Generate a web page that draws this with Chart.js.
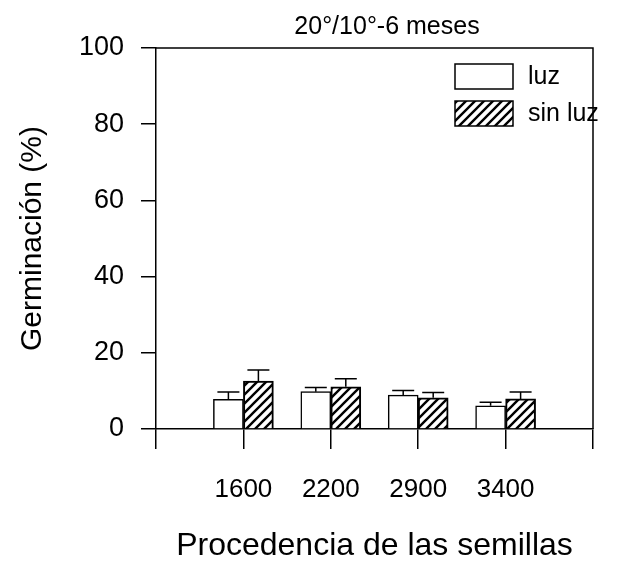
<!DOCTYPE html>
<html>
<head>
<meta charset="utf-8">
<script src="https://cdn.jsdelivr.net/npm/chart.js@4.4.1/dist/chart.umd.min.js"></script>
<style>
  html, body { margin: 0; padding: 0; background: #ffffff; }
  #wrap { width: 618px; height: 565px; position: relative; }
</style>
</head>
<body>
<div id="wrap"><canvas id="c" width="618" height="565"></canvas></div>
<script>
// ---- Data ----
const categories = ['', '1600', '2200', '2900', '3400', ''];
const luz        = [null, 7.8, 9.8, 8.9, 6.1, null];
const luzErr     = [null, 1.9, 1.1, 1.2, 0.9, null];
const sinLuz     = [null, 12.6, 11.1, 8.2, 7.9, null];
const sinLuzErr  = [null, 2.9, 2.1, 1.4, 1.8, null];
const yTicks     = [0, 20, 40, 60, 80, 100];
const seriesNames = ['luz', 'sin luz'];
const chartTitle = '20°/10°-6 meses';
const xTitle = 'Procedencia de las semillas';
const yTitle = 'Germinación (%)';

const FONT = "'Liberation Sans', Arial, Helvetica, sans-serif";

function makeHatch() {
  const s = 9;
  const c = document.createElement('canvas');
  c.width = s; c.height = s;
  const g = c.getContext('2d');
  g.fillStyle = '#ffffff';
  g.fillRect(0, 0, s, s);
  g.strokeStyle = '#000000';
  g.lineWidth = 2.4;
  g.beginPath();
  g.moveTo(-2, s + 2); g.lineTo(s + 2, -2);
  g.moveTo(-2, 2); g.lineTo(2, -2);
  g.moveTo(s - 2, s + 2); g.lineTo(s + 2, s - 2);
  g.stroke();
  return g.createPattern(c, 'repeat');
}
const hatch = makeHatch();

const errorBars = {
  id: 'errorBars',
  afterDatasetsDraw(chart) {
    const ctx = chart.ctx;
    const yScale = chart.scales.y;
    const errs = [luzErr, sinLuzErr];
    ctx.save();
    ctx.strokeStyle = '#000';
    ctx.lineWidth = 1.5;
    chart.data.datasets.forEach((ds, i) => {
      const meta = chart.getDatasetMeta(i);
      meta.data.forEach((el, j) => {
        const v = ds.data[j];
        const e = errs[i][j];
        if (v == null || e == null) return;
        const yTop = yScale.getPixelForValue(v);
        const yCap = yScale.getPixelForValue(v + e);
        ctx.beginPath();
        ctx.moveTo(el.x, yTop);
        ctx.lineTo(el.x, yCap);
        ctx.moveTo(el.x - 11, yCap);
        ctx.lineTo(el.x + 11, yCap);
        ctx.stroke();
      });
    });
    ctx.restore();
  }
};

const frameAndText = {
  id: 'frameAndText',
  afterDraw(chart) {
    const ctx = chart.ctx;
    const a = chart.chartArea;
    ctx.save();
    ctx.strokeStyle = '#000';
    ctx.lineWidth = 1.5;
    ctx.beginPath();
    ctx.moveTo(a.left, a.top);
    ctx.lineTo(a.right, a.top);
    ctx.lineTo(a.right, a.bottom);
    ctx.stroke();

    // title
    ctx.fillStyle = '#000';
    ctx.font = '25px ' + FONT;
    ctx.textAlign = 'center';
    ctx.textBaseline = 'middle';
    ctx.fillText(chartTitle, 387, 27);

    // legend
    const fills = ['#ffffff', hatch];
    const sy = [64, 101];
    ctx.font = '25px ' + FONT;
    ctx.textAlign = 'left';
    for (let i = 0; i < 2; i++) {
      ctx.fillStyle = fills[i];
      ctx.fillRect(455, sy[i], 58, 25);
      ctx.strokeStyle = '#000';
      ctx.lineWidth = 1.5;
      ctx.strokeRect(455, sy[i], 58, 25);
      ctx.fillStyle = '#000';
      ctx.fillText(seriesNames[i], 528, sy[i] + 13);
    }
    ctx.restore();
  }
};

new Chart(document.getElementById('c'), {
  type: 'bar',
  data: {
    labels: categories,
    datasets: [
      { label: seriesNames[0], data: luz, backgroundColor: '#ffffff', borderColor: '#000', borderWidth: 1.5, borderSkipped: 'bottom' },
      { label: seriesNames[1], data: sinLuz, backgroundColor: hatch, borderColor: '#000', borderWidth: 2, borderSkipped: 'bottom' }
    ]
  },
  options: {
    responsive: false,
    animation: false,
    devicePixelRatio: 1,
    layout: { padding: { left: 0, top: 48, right: 16, bottom: 0 } },
    datasets: { bar: { barThickness: 30 } },
    plugins: {
      legend: { display: false },
      title: { display: false },
      tooltip: { enabled: false }
    },
    scales: {
      x: {
        type: 'category',
        offset: false,
        grid: { display: true, offset: false, drawOnChartArea: false, drawTicks: true, tickLength: 20, color: '#000', lineWidth: 1.5 },
        border: { display: true, color: '#000', width: 1.5 },
        ticks: { color: '#000', font: { family: FONT, size: 26 }, padding: 25, maxRotation: 0, autoSkip: false },
        title: { display: true, text: xTitle, color: '#000', font: { family: FONT, size: 32 }, padding: { top: 0, bottom: 0 } },
        afterFit(scale) { scale.height = 136; }
      },
      y: {
        min: 0, max: 100,
        afterBuildTicks(scale) { scale.ticks = yTicks.map(v => ({ value: v })); },
        grid: { display: true, drawOnChartArea: false, drawTicks: true, tickLength: 15, color: '#000', lineWidth: 1.5 },
        border: { display: true, color: '#000', width: 1.5 },
        ticks: { color: '#000', font: { family: FONT, size: 27 }, padding: 17 },
        title: { display: true, text: yTitle, color: '#000', font: { family: FONT, size: 30 }, padding: { top: 15, bottom: 0 } },
        afterFit(scale) { scale.width = 156; }
      }
    }
  },
  plugins: [errorBars, frameAndText]
});
</script>
</body>
</html>
